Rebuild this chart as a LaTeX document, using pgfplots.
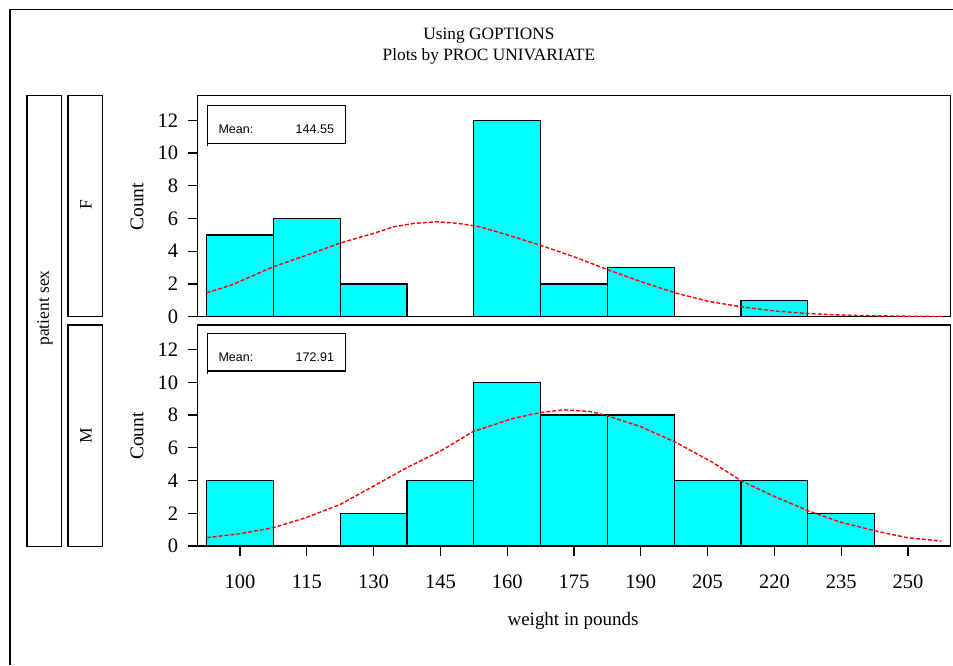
\documentclass[border=0pt]{standalone}
\usepackage{pgfplots}
\pgfplotsset{compat=1.18}
\usepackage{fontspec}
\setmainfont{Liberation Serif}
\newfontfamily\arial{Liberation Sans}

\definecolor{barcyan}{RGB}{0,255,255}

\pgfplotsset{
  panel/.style={
    scale only axis,
    width=752.6pt, height=221pt,
    xmin=90.5, xmax=259.5,
    ymin=0, ymax=13.5,
    ytick={0,2,4,6,8,10,12},
    ytick pos=left,
    tick align=outside,
    major tick length=10pt,
    axis line style={line width=1.3pt},
    major tick style={black, line width=1.3pt},
    tick label style={font=\fontsize{20.5}{22}\selectfont},
    yticklabel style={xshift=-6pt},
    xticklabel style={yshift=-15pt},
    /pgf/number format/assume math mode=true,
  },
  bars/.style={ybar, bar width=15, fill=barcyan, draw=black, line width=1.3pt},
  fit/.style={red, line width=1.4pt, dash pattern=on 4pt off 2pt},
}

\begin{document}
\begin{tikzpicture}
\useasboundingbox (0,0) rectangle (953pt,-665pt);

% outer frame
\draw[line width=1.4pt] (10pt,-665pt) -- (10pt,-9.5pt) -- (953pt,-9.5pt);

% titles
\node[font=\fontsize{17.3}{19}\selectfont] at (489pt,-36pt) {Using GOPTIONS};
\node[font=\fontsize{17.3}{19}\selectfont] at (489pt,-56pt) {Plots by PROC UNIVARIATE};

% class strips
\draw[line width=1.2pt] (27pt,-95.7pt) rectangle (61.7pt,-546.7pt);
\draw[line width=1.2pt] (68pt,-95.7pt) rectangle (102.7pt,-316.7pt);
\draw[line width=1.2pt] (68pt,-325pt) rectangle (102.7pt,-546.7pt);
\node[rotate=90, font=\fontsize{17.5}{19}\selectfont] at (45pt,-308pt) {patient sex};
\node[rotate=90, font=\fontsize{17.5}{19}\selectfont] at (86pt,-205pt) {F};
\node[rotate=90, font=\fontsize{17.5}{19}\selectfont] at (86pt,-436pt) {M};

% y labels
\node[rotate=90, font=\fontsize{19.5}{21}\selectfont] at (137pt,-206.7pt) {Count};
\node[rotate=90, font=\fontsize{19.5}{21}\selectfont] at (137pt,-436pt) {Count};

% F panel
\begin{axis}[panel, at={(197.7pt,-95.7pt)}, anchor=north west, xtick=\empty]
\addplot[bars] coordinates {(100,5) (115,6) (130,2) (160,12) (175,2) (190,3) (220,1)};
\addplot[fit] coordinates {
(92.5,1.46) (98,1.93) (107.5,3.05) (115,3.76) (122.5,4.5) (130,5.09)
(134.5,5.49) (139,5.7) (144.2,5.8) (149,5.7) (153.9,5.49) (160,5.0)
(167.4,4.37) (175,3.66) (182.4,2.89) (190,2.14) (198.1,1.43) (205,0.95)
(212.4,0.61) (220,0.35) (227.3,0.2) (233,0.12) (239.3,0.07) (250,0.03) (257.5,0.01)};
\end{axis}

% M panel
\begin{axis}[panel, at={(197.7pt,-325pt)}, anchor=north west,
  xtick={100,115,130,145,160,175,190,205,220,235,250}, xtick pos=bottom]
\addplot[bars] coordinates {(100,4) (130,2) (145,4) (160,10) (175,8) (190,8) (205,4) (220,4) (235,2)};
\addplot[fit] coordinates {
(92.5,0.51) (100,0.75) (107.5,1.12) (115,1.75) (122.5,2.54) (130,3.66)
(137.4,4.78) (145,5.8) (152.4,7.0) (161.4,7.8) (167.4,8.15) (172.6,8.32)
(178.6,8.22) (182.4,7.96) (189.9,7.3) (198.1,6.3) (206.3,5.08) (212.4,4.0)
(219.8,3.05) (227.7,2.14) (234.8,1.46) (242.7,0.92) (249.8,0.51) (257.5,0.3)};
\end{axis}

% mean boxes
\foreach \yt/\mv in {105.7/144.55, 333.3/172.91}{
  \draw[line width=1.2pt] (207.5pt,-\yt pt) rectangle (345.5pt,-\yt pt-37.6pt);
  \draw[line width=1.2pt] (207.5pt,-\yt pt-37.6pt) -- ++(0,-3pt);
  \node[anchor=west, font=\arial\fontsize{12.5}{14}\selectfont] at (215pt,-\yt pt-24pt) {Mean:};
  \node[anchor=east, font=\arial\fontsize{12.5}{14}\selectfont] at (337.5pt,-\yt pt-24pt) {\mv};
}

% x label
\node[font=\fontsize{19}{21}\selectfont] at (573pt,-621pt) {weight in pounds};
\end{tikzpicture}
\end{document}
